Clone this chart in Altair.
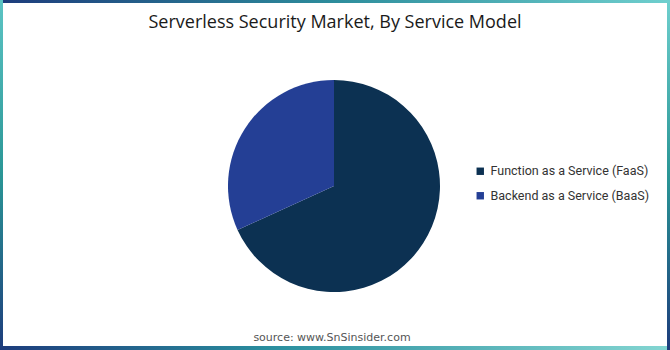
import altair as alt
import pandas as pd

# Data
categories = ["Function as a Service (FaaS)", "Backend as a Service (BaaS)"]
shares = [68.2, 31.8]
colors = ["#0c3152", "#243f95"]
title_text = "Serverless Security Market, By Service Model"
source_text = "source: www.SnSinsider.com"

W, H = 670, 350

df = pd.DataFrame({"model": categories, "share": shares, "order": list(range(len(categories)))})
one = pd.DataFrame({"k": [0]})

pie = alt.Chart(df).mark_arc(outerRadius=106).encode(
    theta=alt.Theta("share:Q", stack=True),
    order=alt.Order("order:Q"),
    color=alt.Color(
        "model:N",
        scale=alt.Scale(domain=categories, range=colors),
        sort=categories,
        legend=alt.Legend(
            title=None,
            orient="none",
            legendX=474,
            legendY=165,
            symbolType="square",
            symbolSize=55,
            symbolStrokeWidth=0,
            labelFont="Roboto",
            labelFontSize=12.5,
            labelColor="#333333",
            labelLimit=400,
            rowPadding=11.5,
            labelOffset=4,
        ),
    ),
    x=alt.value(334),
    y=alt.value(186),
)

title = alt.Chart(one).mark_text(
    text=title_text, font="Open Sans", fontSize=18, color="#1a1a1a",
    align="center", baseline="middle",
).encode(x=alt.value(335), y=alt.value(23))

source = alt.Chart(one).mark_text(
    text=source_text, font="DejaVu Sans", fontSize=11, color="#555555",
    align="center", baseline="middle",
).encode(x=alt.value(332), y=alt.value(338))

top_bar = alt.Chart(one).mark_rect(
    fill=alt.Gradient(gradient="linear", x1=0, x2=1, y1=0, y2=0,
                      stops=[alt.GradientStop(color="#1d3c7c", offset=0),
                             alt.GradientStop(color="#2d8d9c", offset=0.5),
                             alt.GradientStop(color="#6fcfce", offset=1)])
).encode(x=alt.value(0), x2=alt.value(W), y=alt.value(0), y2=alt.value(3))

bottom_bar = alt.Chart(one).mark_rect(
    fill=alt.Gradient(gradient="linear", x1=0, x2=1, y1=0, y2=0,
                      stops=[alt.GradientStop(color="#1d3c7c", offset=0),
                             alt.GradientStop(color="#2a8e9e", offset=0.4),
                             alt.GradientStop(color="#84d6d2", offset=1)])
).encode(x=alt.value(0), x2=alt.value(W), y=alt.value(H - 4), y2=alt.value(H))

left_bar = alt.Chart(one).mark_rect(
    fill=alt.Gradient(gradient="linear", x1=0, x2=0, y1=0, y2=1,
                      stops=[alt.GradientStop(color="#5cc4c4", offset=0),
                             alt.GradientStop(color="#2a9696", offset=0.5),
                             alt.GradientStop(color="#1d3c7c", offset=1)])
).encode(x=alt.value(0), x2=alt.value(3), y=alt.value(0), y2=alt.value(H))

right_bar = alt.Chart(one).mark_rect(
    fill=alt.Gradient(gradient="linear", x1=0, x2=0, y1=0, y2=1,
                      stops=[alt.GradientStop(color="#6fcfce", offset=0),
                             alt.GradientStop(color="#2a9696", offset=0.5),
                             alt.GradientStop(color="#1d3c7c", offset=1)])
).encode(x=alt.value(W - 3), x2=alt.value(W), y=alt.value(0), y2=alt.value(H))

chart = alt.layer(pie, title, source, top_bar, bottom_bar, left_bar, right_bar).properties(
    width=W, height=H, padding=0, background="white",
    autosize=alt.AutoSizeParams(type="none"),
).configure_view(stroke=None)

chart.save("out.html", embed_options={"renderer": "svg", "actions": False})
